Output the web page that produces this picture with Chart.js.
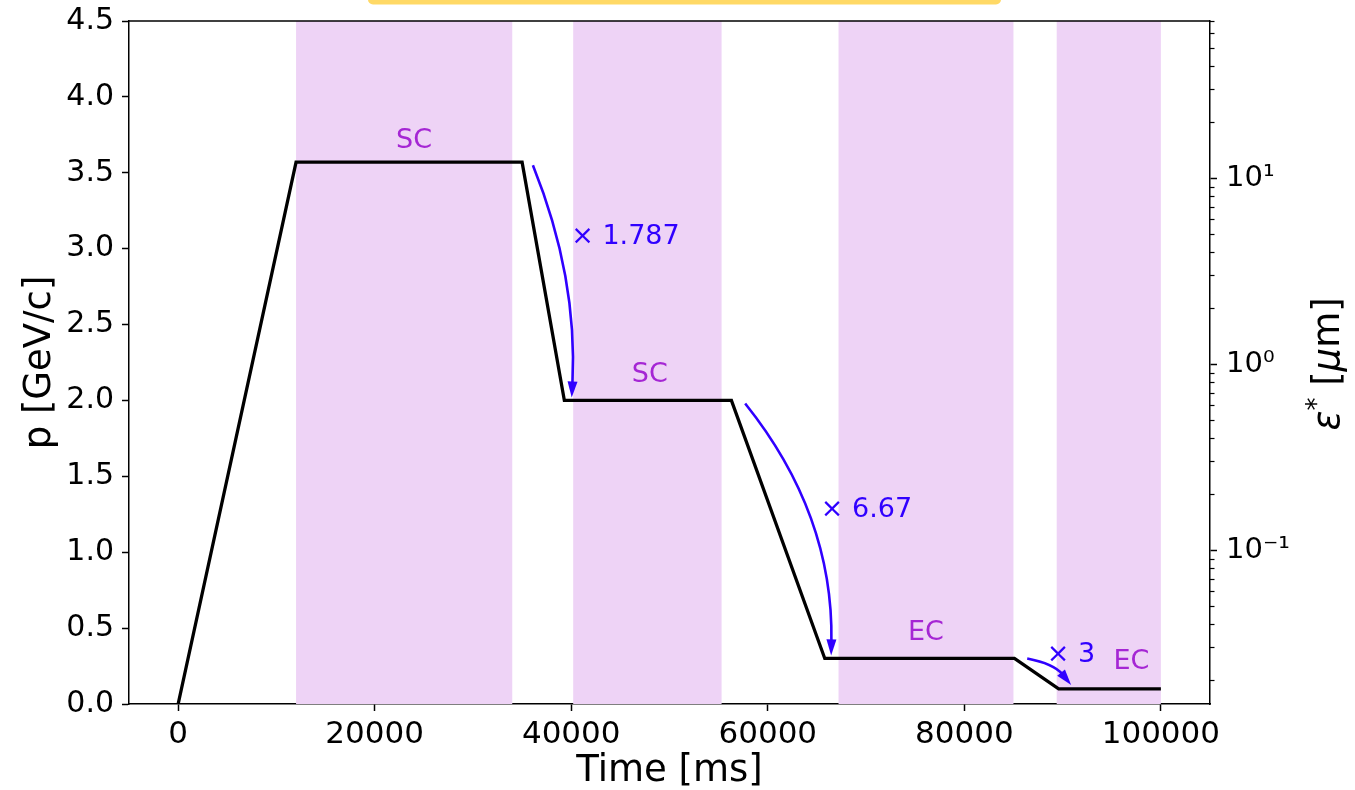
<!DOCTYPE html>
<html>
<head>
<meta charset="utf-8">
<script src="https://cdn.jsdelivr.net/npm/chart.js@4.4.0/dist/chart.umd.min.js"></script>
<style>
    html, body { margin: 0; padding: 0; background: #fff; }
    #contenedor { width: 1355px; height: 790px; }
</style>
</head>
<body>
<div id="contenedor"><canvas id="grafico" width="1355" height="790"></canvas></div>
<script>
// Perfil de momento del ciclo (tiempo en ms, p en GeV/c)
const tiempoMs = [0, 12000, 35000, 39300, 56300, 65800, 85100, 89600, 100000];
const momento = [0, 3.57, 3.57, 2.0, 2.0, 0.3, 0.3, 0.1, 0.1];

// Zonas de enfriamiento (SC = estocástico, EC = electrones)
const zonaInicio = [12000, 40200, 67200, 89400];
const zonaFin = [34000, 55300, 85000, 100000];
const zonaEtiqueta = ['SC', 'SC', 'EC', 'EC'];
const etiquetaX = [24000, 48000, 76100, 97000];
const etiquetaY = [3.71, 2.17, 0.47, 0.28];

// Flechas con el factor de crecimiento de la emitancia
const flechaDesdeX = [36100, 57700, 86400];
const flechaDesdeY = [3.55, 1.98, 0.30];
const flechaHastaX = [40050, 66450, 90870];
const flechaHastaY = [2.02, 0.32, 0.125];
const factorTexto = ['× 1.787', '× 6.67', '× 3'];
const factorX = [40000, 65400, 88400];
const factorY = [3.08, 1.28, 0.32];

// Marcas de los ejes
const ticksTiempo = [0, 20000, 40000, 60000, 80000, 100000];
const ticksMomento = [0, 0.5, 1.0, 1.5, 2.0, 2.5, 3.0, 3.5, 4.0, 4.5];
const ticksEps = [0.1, 1, 10];
const etiquetasEps = ['10⁻¹', '10⁰', '10¹'];
const ticksEpsMenores = [0.02, 0.03, 0.04, 0.05, 0.06, 0.07, 0.08, 0.09,
    0.2, 0.3, 0.4, 0.5, 0.6, 0.7, 0.8, 0.9,
    2, 3, 4, 5, 6, 7, 8, 9,
    20, 30, 40, 50, 60, 70];

const FUENTE = 'DejaVu Sans';
const AZUL = '#3000ff';
const VIOLETA = '#a526d4';
const curvatura = [0.11, 0.18, 0.18];

function dibujarFlecha(ctx, x0, y0, x1, y1, rad) {
    const dx = x1 - x0, dy = y1 - y0;
    const cx = (x0 + x1) / 2 + rad * dy;
    const cy = (y0 + y1) / 2 - rad * dx;
    const ang = Math.atan2(y1 - cy, x1 - cx);
    const largo = 16, ancho = 5;
    const bx = x1 - largo * Math.cos(ang), by = y1 - largo * Math.sin(ang);
    ctx.beginPath();
    ctx.moveTo(x0, y0);
    ctx.quadraticCurveTo(cx, cy, bx + 2 * Math.cos(ang), by + 2 * Math.sin(ang));
    ctx.stroke();
    ctx.beginPath();
    ctx.moveTo(x1, y1);
    ctx.lineTo(bx + ancho * Math.sin(ang), by - ancho * Math.cos(ang));
    ctx.lineTo(bx - ancho * Math.sin(ang), by + ancho * Math.cos(ang));
    ctx.closePath();
    ctx.fill();
}

const pluginZonas = {
    id: 'zonas',
    beforeDatasetsDraw(chart) {
        const { ctx, chartArea, scales } = chart;
        ctx.save();
        ctx.fillStyle = '#eed3f6';
        zonaInicio.forEach((ini, i) => {
            const xa = scales.x.getPixelForValue(ini);
            const xb = scales.x.getPixelForValue(zonaFin[i]);
            ctx.fillRect(xa, chartArea.top, xb - xa, chartArea.bottom - chartArea.top);
        });
        ctx.restore();
    }
};

const pluginAnotaciones = {
    id: 'anotaciones',
    afterDatasetsDraw(chart) {
        const { ctx, scales } = chart;
        const sx = scales.x, sy = scales.y;
        ctx.save();
        // etiquetas de las zonas
        ctx.fillStyle = VIOLETA;
        ctx.font = '27px "' + FUENTE + '"';
        ctx.textAlign = 'center';
        ctx.textBaseline = 'middle';
        zonaEtiqueta.forEach((txt, i) => {
            ctx.fillText(txt, sx.getPixelForValue(etiquetaX[i]), sy.getPixelForValue(etiquetaY[i]));
        });
        // flechas curvas
        ctx.strokeStyle = AZUL;
        ctx.fillStyle = AZUL;
        ctx.lineWidth = 2.6;
        flechaDesdeX.forEach((x0, i) => {
            dibujarFlecha(ctx,
                sx.getPixelForValue(x0), sy.getPixelForValue(flechaDesdeY[i]),
                sx.getPixelForValue(flechaHastaX[i]), sy.getPixelForValue(flechaHastaY[i]),
                curvatura[i]);
        });
        // factores
        ctx.textAlign = 'left';
        factorTexto.forEach((txt, i) => {
            ctx.fillText(txt, sx.getPixelForValue(factorX[i]), sy.getPixelForValue(factorY[i]));
        });
        ctx.restore();
    },
    afterDraw(chart) {
        const { ctx, chartArea, scales } = chart;
        ctx.save();
        // borde superior del marco
        ctx.strokeStyle = '#000';
        ctx.lineWidth = 1.5;
        ctx.beginPath();
        ctx.moveTo(chartArea.left, chartArea.top);
        ctx.lineTo(chartArea.right, chartArea.top);
        ctx.stroke();
        // marcas menores del eje logaritmico
        ctx.lineWidth = 1.2;
        ticksEpsMenores.forEach(v => {
            const y = Math.round(scales.y2.getPixelForValue(v)) + 0.5;
            ctx.beginPath();
            ctx.moveTo(chartArea.right, y);
            ctx.lineTo(chartArea.right + 4.5, y);
            ctx.stroke();
        });
        // titulos de los ejes
        ctx.fillStyle = '#000';
        ctx.font = '37px "' + FUENTE + '"';
        ctx.textAlign = 'center';
        ctx.textBaseline = 'alphabetic';
        ctx.fillText('Time [ms]', (chartArea.left + chartArea.right) / 2, 781);

        ctx.save();
        ctx.translate(50, (chartArea.top + chartArea.bottom) / 2);
        ctx.rotate(-Math.PI / 2);
        ctx.fillText('p [GeV/c]', 0, 0);
        ctx.restore();

        // titulo derecho: ε* [μm]
        const partes = [
            { t: 'ε', f: 'italic 37px "' + FUENTE + '"', dy: 0 },
            { t: '*', f: '26px "' + FUENTE + '"', dy: -14 },
            { t: ' [', f: '37px "' + FUENTE + '"', dy: 0 },
            { t: 'μ', f: 'italic 37px "' + FUENTE + '"', dy: 0 },
            { t: 'm]', f: '37px "' + FUENTE + '"', dy: 0 }
        ];
        let total = 0;
        partes.forEach(p => { ctx.font = p.f; p.w = ctx.measureText(p.t).width; total += p.w; });
        ctx.save();
        ctx.translate(1339, 364);
        ctx.rotate(-Math.PI / 2);
        ctx.textAlign = 'left';
        let px = -total / 2;
        partes.forEach(p => {
            ctx.font = p.f;
            ctx.fillText(p.t, px, p.dy);
            px += p.w;
        });
        ctx.restore();

        // recuadro amarillo recortado arriba
        ctx.fillStyle = '#ffd966';
        ctx.beginPath();
        ctx.roundRect(368, -8, 633, 12.5, 5);
        ctx.fill();
        ctx.restore();
    }
};

const ejeComun = {
    grid: { display: true, drawOnChartArea: false, tickLength: 7, tickWidth: 1.5, tickColor: '#000' },
    border: { display: true, color: '#000', width: 1.5 }
};

// ancho fijo del eje y sin relleno extra por las etiquetas
function fijarAncho(ancho) {
    return s => {
        s.width = ancho;
        s.paddingTop = 0;
        s.paddingBottom = 0;
    };
}

const ctx = document.getElementById('grafico').getContext('2d');
new Chart(ctx, {
    type: 'line',
    data: {
        datasets: [{
            label: 'p',
            data: tiempoMs.map((t, i) => ({ x: t, y: momento[i] })),
            borderColor: '#000',
            borderWidth: 3.3,
            pointRadius: 0,
            tension: 0,
            fill: false,
            xAxisID: 'x',
            yAxisID: 'y'
        }]
    },
    options: {
        responsive: false,
        devicePixelRatio: 1,
        animation: false,
        layout: { padding: { top: 21, left: 0, right: 0, bottom: 0 } },
        plugins: { legend: { display: false }, tooltip: { enabled: false } },
        scales: {
            x: {
                type: 'linear',
                position: 'bottom',
                min: -5000,
                max: 105000,
                ...ejeComun,
                afterBuildTicks: s => { s.ticks = ticksTiempo.map(v => ({ value: v })); },
                afterFit: s => { s.height = 86; s.paddingLeft = 0; s.paddingRight = 0; },
                ticks: {
                    color: '#000',
                    font: { family: FUENTE, size: 31 },
                    padding: 5,
                    maxRotation: 0,
                    autoSkip: false,
                    callback: v => String(v)
                }
            },
            y: {
                type: 'linear',
                position: 'left',
                min: 0,
                max: 4.5,
                ...ejeComun,
                afterBuildTicks: s => { s.ticks = ticksMomento.map(v => ({ value: v })); },
                afterFit: fijarAncho(129),
                ticks: {
                    color: '#000',
                    font: { family: FUENTE, size: 30 },
                    padding: 8,
                    autoSkip: false,
                    callback: v => v.toFixed(1)
                }
            },
            y2: {
                type: 'logarithmic',
                position: 'right',
                min: 0.0149,
                max: 70,
                ...ejeComun,
                afterBuildTicks: s => { s.ticks = ticksEps.map(v => ({ value: v })); },
                afterFit: fijarAncho(145),
                ticks: {
                    color: '#000',
                    font: { family: FUENTE, size: 29 },
                    padding: 9,
                    autoSkip: false,
                    callback: v => etiquetasEps[ticksEps.indexOf(v)]
                }
            }
        }
    },
    plugins: [pluginZonas, pluginAnotaciones]
});
</script>
</body>
</html>
